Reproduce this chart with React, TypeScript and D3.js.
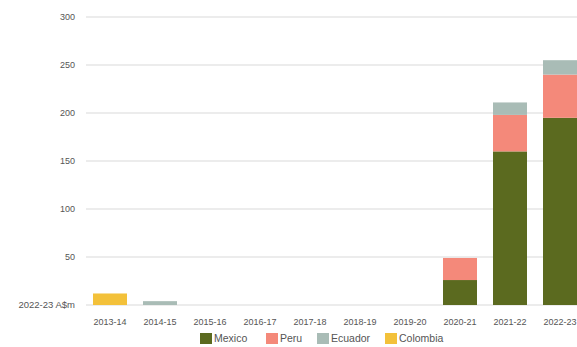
import React from "react";
import * as d3 from "d3";

const categories = ["2013-14","2014-15","2015-16","2016-17","2017-18","2018-19","2019-20","2020-21","2021-22","2022-23"];
const seriesNames = ["Mexico","Peru","Ecuador","Colombia"];
const mexico = [0,0,0,0,0,0,0,26,160,195];
const peru = [0,0,0,0,0,0,0,23,38,45];
const ecuador = [0,4,0,0,0,0,0,0,13,15];
const colombia = [12,0,0,0,0,0,0,0,0,0];
const yTicks = [50,100,150,200,250,300];
const colors = ["#5b6a1f","#f4897a","#a9bcb6","#f3c13a"];

export default function App() {
  const W = 577, H = 347;
  const x = d3.scaleBand().domain(categories).range([85, 585]).paddingInner(0.32).paddingOuter(0.16);
  const y = d3.scaleLinear().domain([0, 300]).range([305, 17]);
  const table = categories.map((c, i) => ({ cat: c, Mexico: mexico[i], Peru: peru[i], Ecuador: ecuador[i], Colombia: colombia[i] }));
  const stacked = d3.stack<any>().keys(seriesNames)(table);
  const font = "Liberation Sans, Arial, sans-serif";
  const legendX = [200, 266, 317, 385];
  return (
    <svg width={W} height={H} style={{ position: "absolute", left: 0, top: 0 }} fontFamily={font}>
      <rect width={W} height={H} fill="#fff" />
      {yTicks.map(t => (
        <g key={t}>
          <line x1={86} x2={W} y1={y(t)} y2={y(t)} stroke="#d9d9d9" strokeWidth={1} />
          <text x={75} y={y(t) + 3} textAnchor="end" fontSize={9} fill="#555">{t}</text>
        </g>
      ))}
      <line x1={86} x2={W} y1={y(0)} y2={y(0)} stroke="#d9d9d9" strokeWidth={1} />
      <text x={75} y={y(0) + 3} textAnchor="end" fontSize={9.5} fill="#555">2022-23 A$m</text>
      {stacked.map((s, si) => (
        <g key={s.key} fill={colors[si]}>
          {s.map((d, i) => d[1] - d[0] > 0 ? (
            <rect key={i} x={x(categories[i])} width={x.bandwidth()} y={y(d[1])} height={y(d[0]) - y(d[1])} />
          ) : null)}
        </g>
      ))}
      {categories.map(c => (
        <text key={c} x={(x(c) as number) + x.bandwidth() / 2} y={325} textAnchor="middle" fontSize={9} fill="#555">{c}</text>
      ))}
      {seriesNames.map((n, i) => (
        <g key={n}>
          <rect x={legendX[i]} y={333} width={12} height={11} fill={colors[i]} />
          <text x={legendX[i] + 14} y={342} fontSize={10.5} fill="#555">{n}</text>
        </g>
      ))}
    </svg>
  );
}
